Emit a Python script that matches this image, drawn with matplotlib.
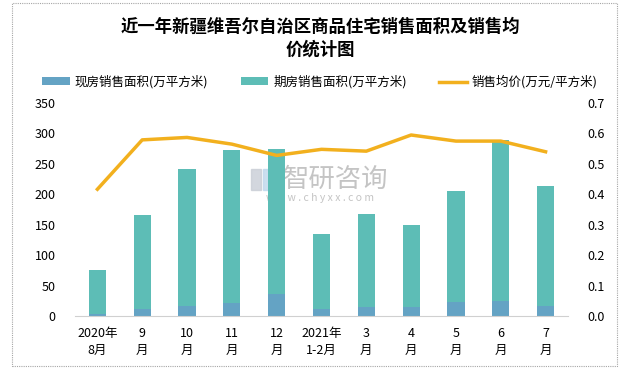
import matplotlib
matplotlib.use("Agg")
import matplotlib.pyplot as plt
from matplotlib.patches import Rectangle

plt.rcParams['font.family'] = ['Noto Sans CJK SC', 'DejaVu Sans']

categories = ["2020年\n8月", "9\n月", "10\n月", "11\n月", "12\n月", "2021年\n1-2月",
              "3\n月", "4\n月", "5\n月", "6\n月", "7\n月"]
existing = [3, 11.5, 16.5, 22, 36.5, 11.5, 15, 15, 23.5, 24.5, 16.5]
total = [76, 166, 241, 272, 274, 135, 167, 149, 205, 289, 213]
futures = [t - e for t, e in zip(total, existing)]
price = [0.416, 0.578, 0.586, 0.564, 0.527, 0.547, 0.541, 0.594, 0.574, 0.574, 0.539]

c_blue = '#64A3C4'
c_teal = '#5DBDB6'
c_line = '#F2B01E'

fig = plt.figure(figsize=(6.4, 3.74), dpi=100)
fig.patches.append(Rectangle((12/640, 1-366/374), 605/640, 363/374, transform=fig.transFigure,
                             fill=False, edgecolor='#A6A6A6', linewidth=0.8, linestyle=(0, (1, 1))))

# watermark (behind the chart)
fig.patches.append(Rectangle((251/640, 1-190/374), 10/640, 21/374, transform=fig.transFigure,
                             color='#C9CDD6', alpha=0.8, zorder=-1))
fig.patches.append(Rectangle((263/640, 1-190/374), 10/640, 21/374, transform=fig.transFigure,
                             color='#BFD8EC', alpha=0.8, zorder=-1))
fig.text(336/640, 1-179/374, "智研咨询", ha='center', va='center', fontsize=19, color='#C4C4C4',
         zorder=-1)
fig.text(320/640, 1-198/374, "w w w . c h y x x . c o m", ha='center', va='center', fontsize=7.5,
         color='#C4C4C4', zorder=-1)

ax = fig.add_axes([75/640, 1-316/374, 493/640, 213.3/374])
ax.patch.set_alpha(0)
x = list(range(len(categories)))
w = 0.385
ax.bar(x, existing, w, color=c_blue, label='现房销售面积(万平方米)', zorder=2)
ax.bar(x, futures, w, bottom=existing, color=c_teal, label='期房销售面积(万平方米)', zorder=2)
ax.set_xlim(-0.5, len(categories) - 0.5)
ax.set_ylim(0, 350)
ax.set_yticks(range(0, 351, 50))
ax.tick_params(axis='y', length=0, labelsize=9, pad=14)
ax.set_xticks(x)
ax.set_xticklabels(categories, fontsize=9, linespacing=1.4)
ax.tick_params(axis='x', length=0, pad=8)
for s in ['top', 'right', 'left']:
    ax.spines[s].set_visible(False)
ax.spines['bottom'].set_color('#D0D0D0')

ax2 = ax.twinx()
ax2.patch.set_alpha(0)
ax2.plot(x, price, color=c_line, linewidth=2.5, label='销售均价(万元/平方米)', zorder=3)
ax2.set_ylim(0, 0.7)
ax2.set_yticks([i / 10 for i in range(8)])
ax2.set_yticklabels([f"{i/10:.1f}" for i in range(8)])
ax2.tick_params(axis='y', length=0, labelsize=9, pad=14)
for s in ['top', 'right', 'left', 'bottom']:
    ax2.spines[s].set_visible(False)

fig.text(0.5, 1-27/374, "近一年新疆维吾尔自治区商品住宅销售面积及销售均", ha='center', va='center',
         fontsize=12.5, fontweight='bold')
fig.text(0.5, 1-50/374, "价统计图", ha='center', va='center', fontsize=12.5, fontweight='bold')

h1, l1 = ax.get_legend_handles_labels()
h2, l2 = ax2.get_legend_handles_labels()
fig.legend(h1 + h2, l1 + l2, loc='center', bbox_to_anchor=(0.5, 1-82/374), ncol=3, frameon=False,
           fontsize=9, handlelength=2.2, handleheight=0.6, columnspacing=2.6, handletextpad=0.4)

fig.savefig('out.png', dpi=100)
